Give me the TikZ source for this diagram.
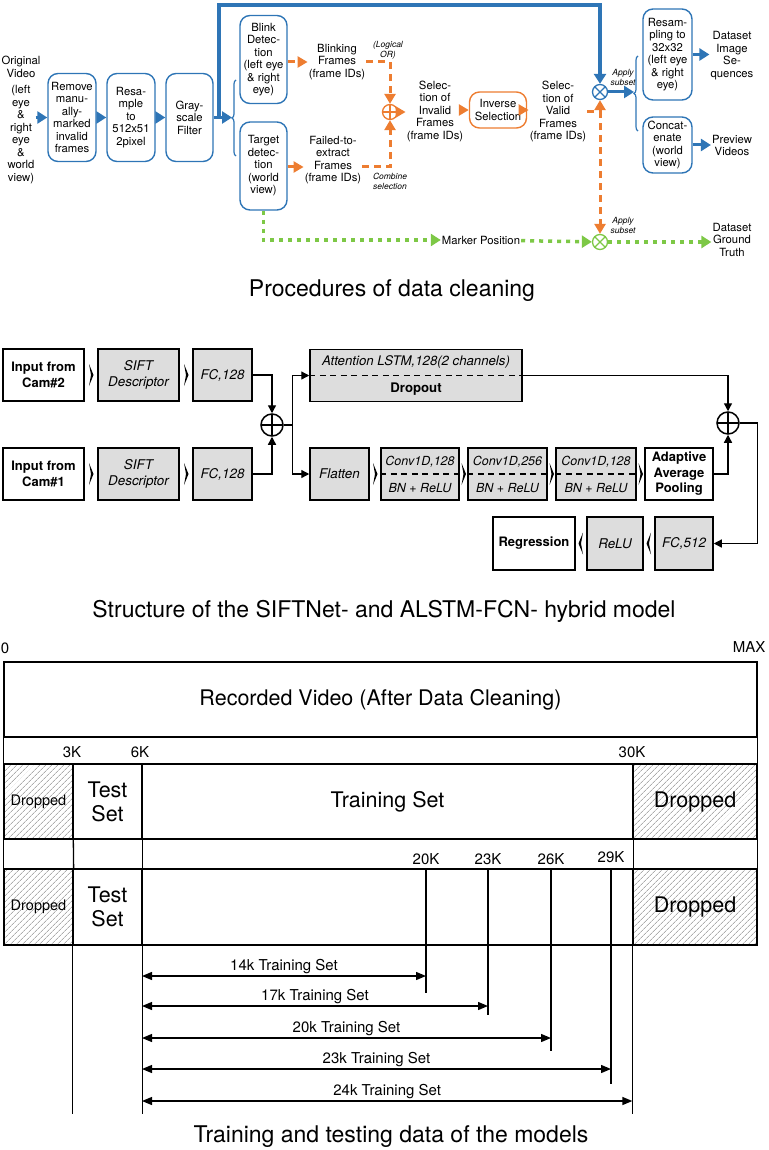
\documentclass[tikz,border=0pt]{standalone}
\usepackage{fontspec}
\setmainfont{TeX Gyre Heros}
\usetikzlibrary{arrows.meta,calc,decorations.pathreplacing,patterns.meta}

\definecolor{cblue}{RGB}{46,117,182}
\definecolor{corange}{RGB}{237,125,49}
\definecolor{cgreen}{RGB}{125,200,70}
\definecolor{cgray}{RGB}{221,221,221}
\newcommand\fsz[2]{\fontsize{#1}{#2}\selectfont}

\begin{document}
\begin{tikzpicture}[x=1pt, y=-1pt,
    txt/.style={align=center, inner sep=1pt, font=\fsz{11.3}{12.5}},
    note/.style={align=center, inner sep=0pt, font=\fsz{8.5}{10}\itshape},
    bbox/.style={draw=cblue, line width=1.4pt, rounded corners=10pt, align=center, inner sep=1pt, font=\fsz{11.3}{12.5}, minimum width=48pt, minimum height=88pt},
    obox/.style={bbox, draw=corange, minimum width=57pt, minimum height=36pt},
    barrow/.style={draw=cblue, line width=3pt, -{Triangle[length=10pt,width=12pt]}},
    bloop/.style={barrow, line width=4.5pt},
    bbrace/.style={draw=cblue, line width=1.2pt, decorate, decoration={brace, amplitude=4pt}},
    odash/.style={draw=corange, line width=3pt, dash pattern=on 7pt off 5pt},
    oarrow/.style={odash, -{Triangle[length=10pt,width=11pt]}},
    gdash/.style={draw=cgreen, line width=3.5pt, dash pattern=on 4pt off 5pt},
    garrow/.style={gdash, -{Triangle[length=10pt,width=12pt]}},
    oplus/.style={circle, draw=#1, line width=1.3pt, minimum size=15pt, inner sep=0pt,
        path picture={\draw[#1, line width=1.3pt] (path picture bounding box.north) -- (path picture bounding box.south)
            (path picture bounding box.west) -- (path picture bounding box.east);}},
    otimes/.style={circle, draw=#1, line width=1.3pt, minimum size=15pt, inner sep=0pt,
        path picture={\draw[#1, line width=1.3pt] (path picture bounding box.north west) -- (path picture bounding box.south east)
            (path picture bounding box.north east) -- (path picture bounding box.south west);}},
    kbox/.style={draw, line width=1.5pt, minimum height=52pt, inner sep=1pt, align=center},
    gbox/.style={kbox, fill=cgray, font=\fsz{13.4}{16}\itshape},
    wbox/.style={kbox, fill=white, font=\fsz{13}{15.5}\bfseries},
    convbox/.style={gbox, font=\fsz{12.5}{27}\itshape},
    kline/.style={line width=1.3pt},
    karrow/.style={kline, -{Triangle[length=8pt,width=8pt]}},
    kdash/.style={line width=1.5pt, dash pattern=on 6pt off 4.5pt},
    kplus/.style={oplus=black, minimum size=22pt, line width=1.5pt},
    cell/.style={draw, line width=1.3pt, inner sep=0pt, minimum height=75pt, align=center, font=\fsz{21.5}{24}},
    dropcell/.style={cell, pattern={Lines[angle=45,distance=4pt,line width=0.6pt]}, pattern color=gray},
    ticklbl/.style={inner sep=0pt, font=\fsz{15}{17}},
    span/.style={line width=1.3pt, {Triangle[length=10pt,width=8pt]}-{Triangle[length=10pt,width=8pt]}},
    captxt/.style={inner sep=0pt, font=\fsz{23}{26}}]

    \useasboundingbox (0,0) rectangle (768,1150);

    % Data cleaning: input and preprocessing
    \node at (21,67) (orig) [txt] {Original\\Video};
    \node at (21,134.5) (origsub) [txt] {(left\\eye\\\&\\right\\eye\\\&\\world\\view)};
    \node at (72,117.5) (remove) [bbox] {Remove\\manu-\\ally-\\marked\\invalid\\frames};
    \node at (131,117.5) (resample) [bbox] {Resa-\\mple\\to\\512x51\\2pixel};
    \node at (189.5,117.5) (gray) [bbox, minimum width=47pt] {Gray-\\scale\\Filter};
    \coordinate (fork) at (219,117.5);
    \coordinate (looptop) at (219,5);
    \coordinate (brL) at (232,117.5);

    % Data cleaning: detection
    \node at (263.5,59.5) (blink) [bbox, minimum width=47pt] {Blink\\Detec-\\tion\\(left eye\\\& right\\eye)};
    \node at (263.5,166) (target) [bbox, minimum width=47pt] {Target\\detec-\\tion\\(world\\view)};
    \node at (337,62) (blinkfr) [txt] {Blinking\\Frames\\(frame IDs)};
    \node at (333,160) (failfr) [txt] {Failed-to-\\extract\\Frames\\(frame IDs)};
    \node at (390,112) (orplus) [oplus=corange] {};
    \node at (388,50) (ornote) [note] {(Logical\\OR)};
    \node at (390,181) (combnote) [note] {Combine\\selection};

    % Data cleaning: selection
    \node at (435,111) (invalid) [txt] {Selec-\\tion of\\Invalid\\Frames\\(frame IDs)};
    \node at (498,110) (inverse) [obox] {Inverse\\Selection};
    \node at (558,111.5) (valid) [txt] {Selec-\\tion of\\Valid\\Frames\\(frame IDs)};
    \node at (600,92) (applyb) [otimes=cblue] {};
    \node at (623,77) (applynote) [note] {Apply\\subset};
    \coordinate (vsplit) at (valid.east -| applyb);
    \coordinate (brR) at (634,92);

    % Data cleaning: outputs
    \node at (667.5,54.5) (resamp32) [bbox, minimum width=49pt, minimum height=91pt] {Resam-\\pling to\\32x32\\(left eye\\\& right\\eye)};
    \node at (667.5,145) (concat) [bbox, minimum width=49pt, minimum height=56pt] {Concat-\\enate\\(world\\view)};
    \node at (732,55.5) (dsimg) [txt] {Dataset\\Image\\Se-\\quences};
    \node at (732,145.5) (preview) [txt] {Preview\\Videos};
    \node at (481,240) (marker) [txt] {Marker Position};
    \node at (600,242) (applyg) [otimes=cgreen] {};
    \node at (623,225) (applynote2) [note] {Apply\\subset};
    \node at (732,239.5) (truth) [txt] {Dataset\\Ground\\Truth};

    % Data cleaning: connectors
    \draw[barrow] (origsub.east |- remove) -- (remove);
    \draw[barrow] (remove) -- (resample);
    \draw[barrow] (resample) -- (gray);
    \draw[barrow] (gray) -- (brL);
    \draw[bloop] (fork) -- (looptop) -| (applyb);
    \draw[bbrace] (236,156) -- (236,80);
    \draw[oarrow] (blink.east |- blinkfr) -- (blinkfr.west);
    \draw[oarrow] (target.east |- 0,167) -- (failfr.west |- 0,167);
    \draw[oarrow] (blinkfr.east) -| (orplus);
    \draw[oarrow] (failfr.east |- 0,167) -| (orplus);
    \draw[oarrow] (orplus) -- (orplus -| invalid.west);
    \draw[oarrow] (invalid.east |- inverse) -- (inverse);
    \draw[oarrow] (inverse) -- (inverse -| valid.west);
    \draw[odash] (valid.east) -- (vsplit);
    \draw[oarrow] (vsplit) -- (applyb);
    \draw[oarrow] (vsplit) -- (applyg);
    \draw[barrow] (applyb) -- (brR);
    \draw[bbrace] (638,131) -- (638,56);
    \draw[barrow] (resamp32) -- (resamp32 -| dsimg.west);
    \draw[barrow] (concat) -- (concat -| preview.west);
    \draw[garrow] (target.south) |- (marker.west);
    \draw[garrow] (marker) -- (applyg);
    \draw[garrow] (applyg) -- (applyg -| truth.west);

    \node at (392,291) (cap1) [captxt] {Procedures of data cleaning};

    % Hybrid model: two input rows
    \node at (43.5,375) (cam2) [wbox, minimum width=81pt] {Input from\\Cam\#2};
    \node at (138.5,375) (sift2) [gbox, minimum width=81pt] {SIFT\\Descriptor};
    \node at (222.5,375) (fc2) [gbox, minimum width=59pt] {FC,128};
    \node at (43.5,474) (cam1) [wbox, minimum width=81pt] {Input from\\Cam\#1};
    \node at (138.5,474) (sift1) [gbox, minimum width=81pt] {SIFT\\Descriptor};
    \node at (222.5,474) (fc1) [gbox, minimum width=59pt] {FC,128};
    \node at (272,425) (plusa) [kplus] {};
    \coordinate (pfork) at ($(plusa.east)+(9,0)$);

    % Hybrid model: LSTM and FCN branches
    \node at (416,375.5) (attn) [gbox, minimum width=212pt, font=\fsz{13.2}{27}]
        {\itshape Attention LSTM,128(2 channels)\\\bfseries Dropout};
    \node at (339.5,474) (flat) [gbox, minimum width=59pt] {Flatten};
    \node at (420,474) (conv1) [convbox, minimum width=78pt] {Conv1D,128\\BN + ReLU};
    \node at (507.5,474) (conv2) [convbox, minimum width=79pt] {Conv1D,256\\BN + ReLU};
    \node at (596,474) (conv3) [convbox, minimum width=80pt] {Conv1D,128\\BN + ReLU};
    \node at (679,474) (aap) [wbox, minimum width=68pt] {Adaptive\\Average\\Pooling};
    \node at (728,423) (plusb) [kplus] {};
    \node at (684,543.5) (fc512) [gbox, minimum width=58pt, minimum height=53pt] {FC,512};
    \node at (615,543.5) (relu) [gbox, minimum width=56pt, minimum height=53pt] {ReLU};
    \node at (534,543.5) (regr) [wbox, minimum width=82pt, minimum height=53pt] {Regression};

    % Hybrid model: connectors
    \foreach \a in {attn, conv1, conv2, conv3}
        \draw[kdash] (\a.west) -- (\a.east);
    \foreach \a/\b in {cam2/sift2, sift2/fc2, cam1/sift1, sift1/fc1, flat/conv1, conv1/conv2, conv2/conv3, conv3/aap}
        \fill ($(\a.east)!0.5!(\b.west)$) +(-2,-11) -- +(2.5,0) -- +(-2,11) -- +(0,0) -- cycle;
    \foreach \a/\b in {fc512/relu, relu/regr}
        \fill ($(\a.west)!0.5!(\b.east)$) +(2,-11) -- +(-2.5,0) -- +(2,11) -- +(0,0) -- cycle;
    \draw[karrow] (fc2.east) -| (plusa);
    \draw[karrow] (fc1.east) -| (plusa);
    \draw[kline] (plusa.east) -- (pfork);
    \draw[karrow] (pfork) |- (attn.west);
    \draw[karrow] (pfork) |- (flat.west);
    \draw[karrow] (attn.east) -| (plusb);
    \draw[karrow] (aap.east) -| (plusb);
    \draw[karrow] (plusb.east) -- ++(18,0) |- (fc512.east);

    \node at (384,611) (cap2) [captxt] {Structure of the SIFTNet- and ALSTM-FCN- hybrid model};

    % Training / testing split
    \node at (5,648) (zero) [ticklbl] {0};
    \node at (749,647) (max) [ticklbl] {MAX};
    \node at (380.5,699.5) (rec) [cell, minimum width=753pt] {Recorded Video (After Data Cleaning)};
    \node at (38.5,801.5) (drop1a) [dropcell, minimum width=69pt, font=\fsz{14.5}{17}] {Dropped};
    \node at (107.5,801.5) (test1) [cell, minimum width=69pt] {Test\\Set};
    \node at (387.5,801.5) (train1) [cell, minimum width=491pt] {Training Set};
    \node at (695,801.5) (drop1b) [dropcell, minimum width=124pt] {Dropped};
    \node at (38.5,907) (drop2a) [dropcell, minimum width=69pt, minimum height=76pt, font=\fsz{14.5}{17}] {Dropped};
    \node at (107.5,907) (test2) [cell, minimum width=69pt, minimum height=76pt] {Test\\Set};
    \node at (387.5,907) (train2) [cell, minimum width=491pt, minimum height=76pt] {};
    \node at (695,907) (drop2b) [dropcell, minimum width=124pt, minimum height=76pt] {Dropped};
    \draw[kline] (rec.north west) rectangle (drop2b.south east);

    \node at (72,752) (t3) [ticklbl] {3K};
    \node at (140,752) (t6) [ticklbl] {6K};
    \node at (632,752) (t30) [ticklbl] {30K};
    \node at (426,859) (t20) [ticklbl] {20K};
    \node at (488,859) (t23) [ticklbl] {23K};
    \node at (551,859) (t26) [ticklbl] {26K};
    \node at (611,857) (t29) [ticklbl] {29K};

    \coordinate (k20) at (426,869);
    \coordinate (k23) at (488,869);
    \coordinate (k26) at (551,869);
    \coordinate (k29) at (611,869);
    \draw[kline] (drop1a.south east) -- (drop2a.north east);
    \draw[kline] (test1.south east) -- (test2.north east);
    \draw[kline] (train1.south east) -- (train2.north east);
    \draw[kline] (test2.south west) -- ++(0,168);
    \draw[kline] (test2.south east) -- ++(0,168);
    \draw[kline] (drop2b.south west) -- ++(0,168);
    \draw[kline] (k20) -- ++(0,124);
    \draw[kline] (k23) -- ++(0,146);
    \draw[kline] (k26) -- ++(0,182);
    \draw[kline] (k29) -- ++(0,215);

    % Training set ranges
    \coordinate (a14) at (142,976);
    \coordinate (a17) at (142,1006);
    \coordinate (a20) at (142,1038);
    \coordinate (a23) at (142,1069);
    \coordinate (a24) at (142,1101);
    \draw[span] (a14) -- (a14 -| k20) node[midway, above=2pt, ticklbl] {14k Training Set};
    \draw[span] (a17) -- (a17 -| k23) node[midway, above=2pt, ticklbl] {17k Training Set};
    \draw[span] (a20) -- (a20 -| k26) node[midway, above=2pt, ticklbl] {20k Training Set};
    \draw[span] (a23) -- (a23 -| k29) node[midway, above=2pt, ticklbl] {23k Training Set};
    \draw[span] (a24) -- (a24 -| drop2b.south west) node[midway, above=2pt, ticklbl] {24k Training Set};

    \node at (391,1137) (cap3) [captxt] {Training and testing data of the models};

\end{tikzpicture}
\end{document}
